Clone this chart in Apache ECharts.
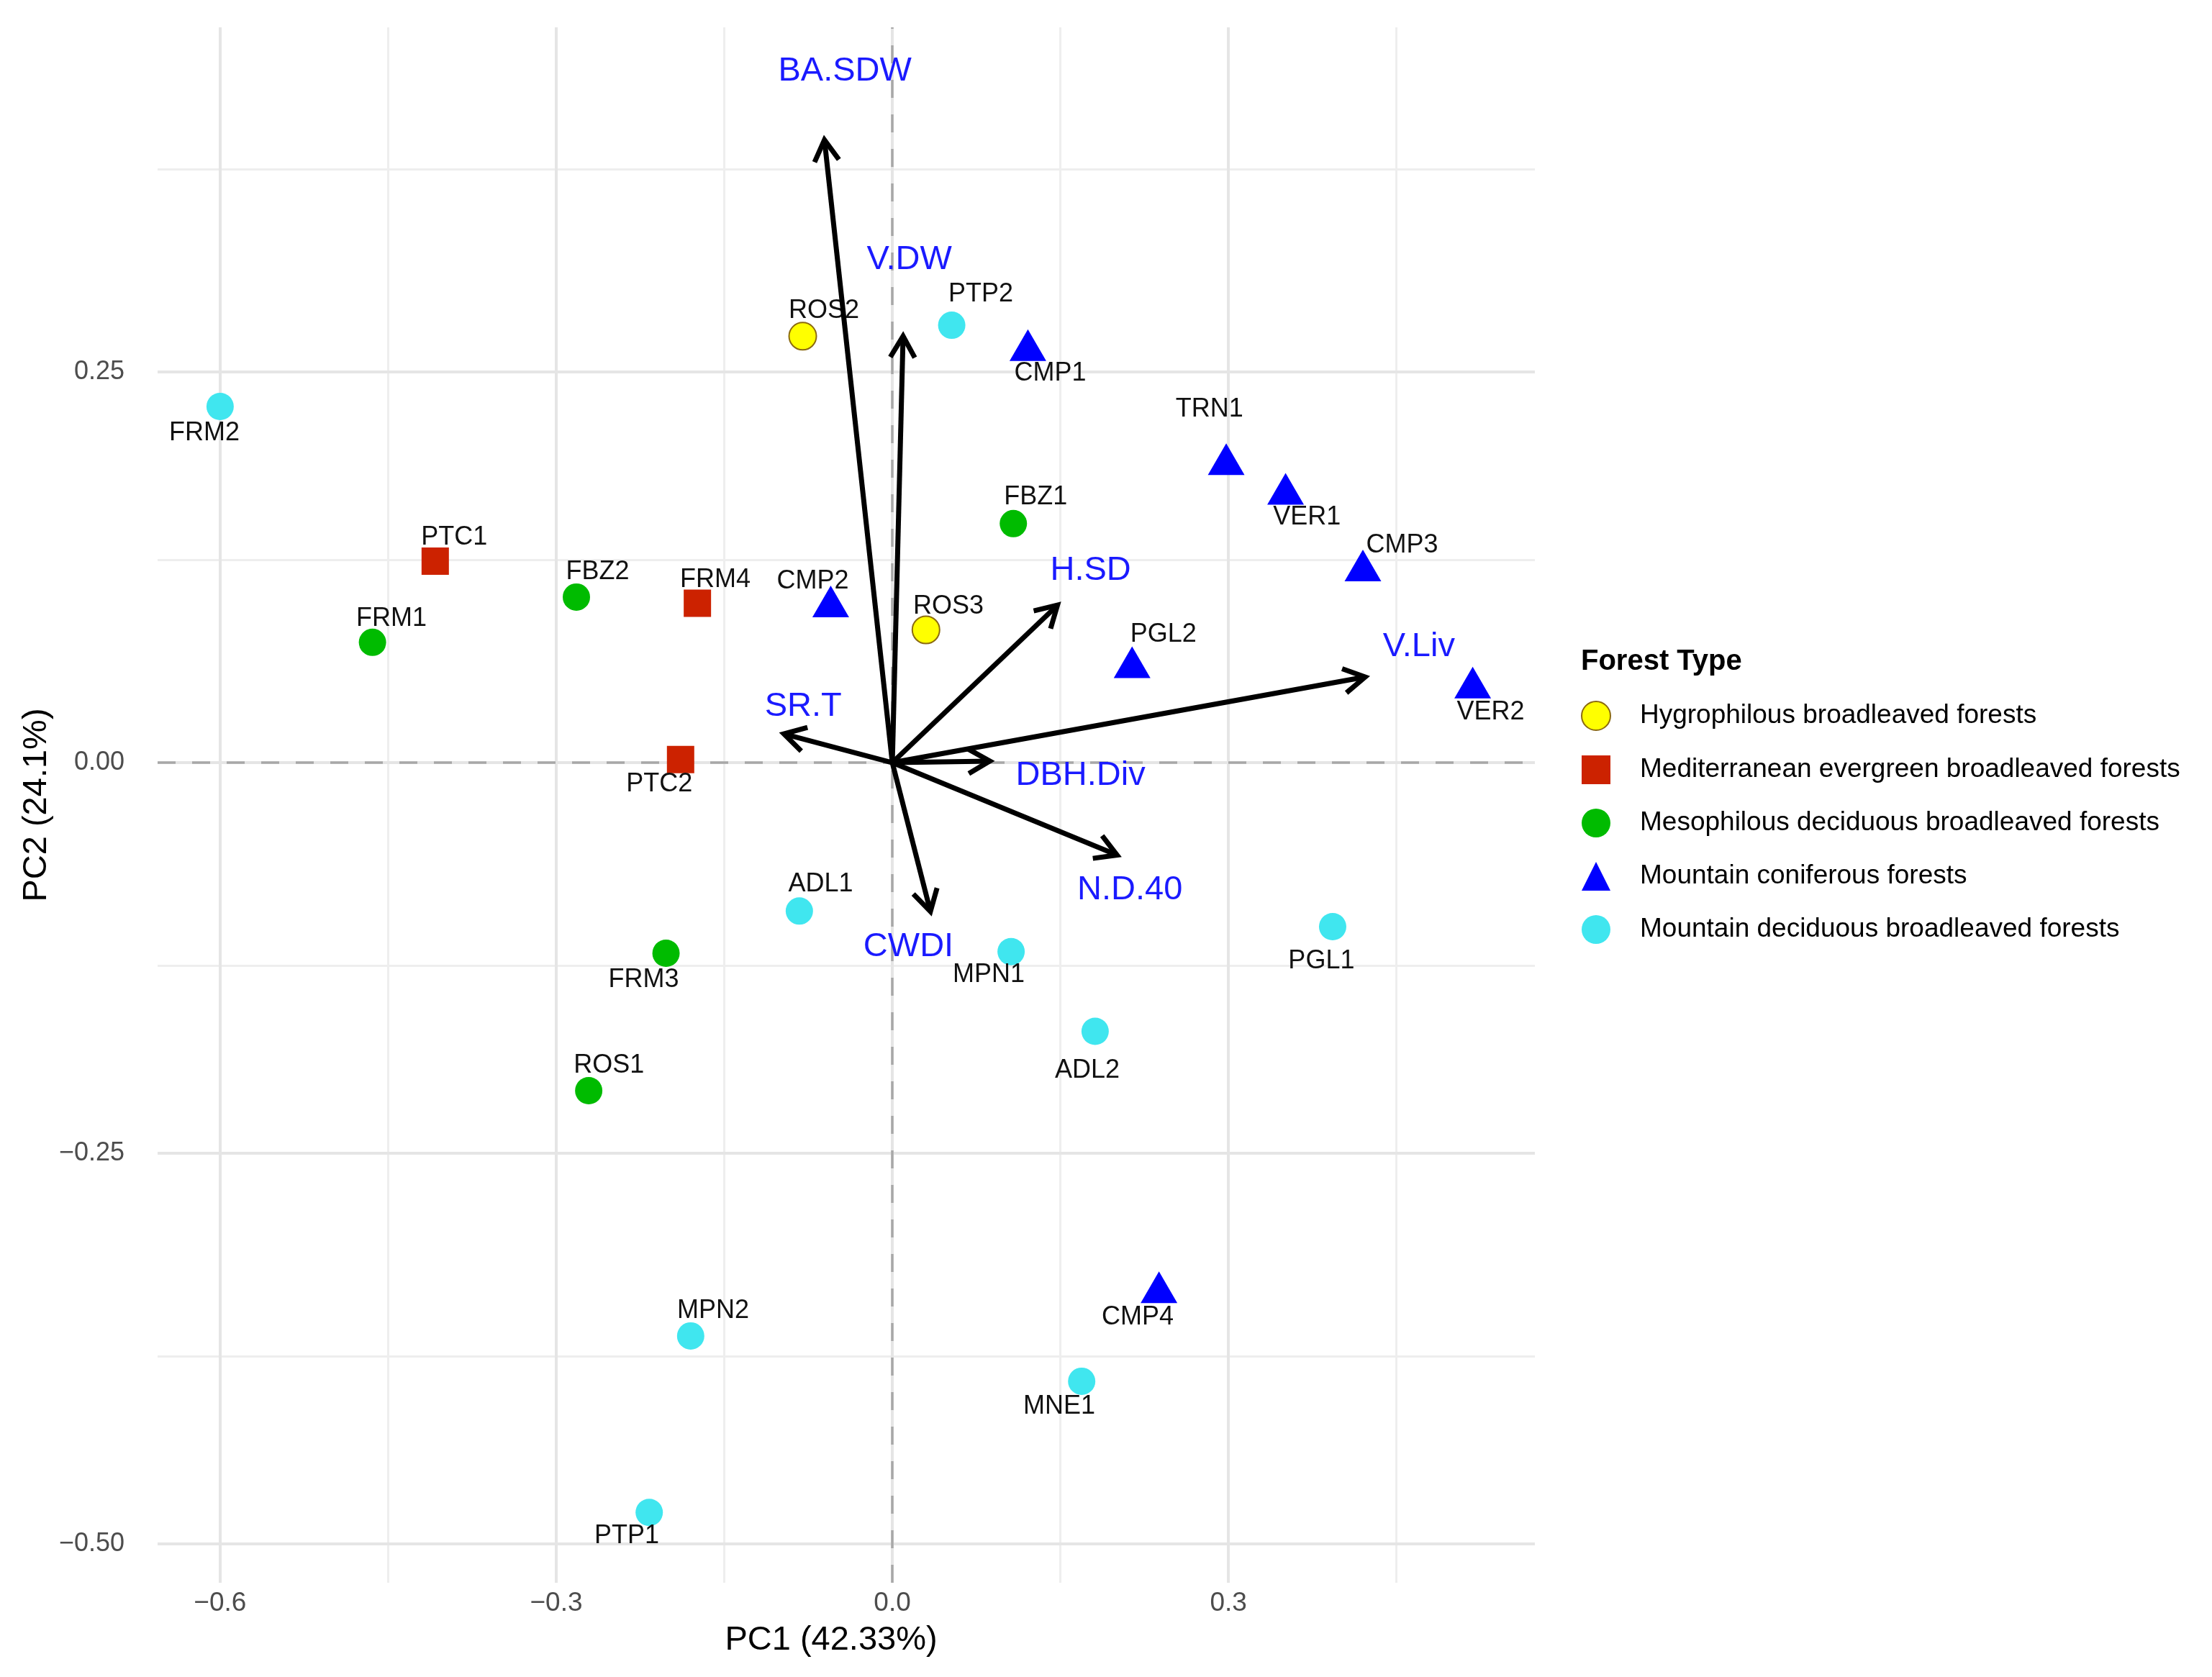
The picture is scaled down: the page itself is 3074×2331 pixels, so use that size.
<!DOCTYPE html>
<html><head><meta charset="utf-8">
<script src="https://cdn.jsdelivr.net/npm/echarts@6/dist/echarts.min.js"></script>
<style>html,body{margin:0;padding:0;background:#fff}#c{width:3074px;height:2331px}</style>
</head><body><div id="c"></div>
<script>
// ---------- data ----------
const groupNames = [
  'Hygrophilous broadleaved forests',
  'Mediterranean evergreen broadleaved forests',
  'Mesophilous deciduous broadleaved forests',
  'Mountain coniferous forests',
  'Mountain deciduous broadleaved forests'
];
const siteNames = ['ROS2','ROS3','PTC1','FRM4','PTC2','FRM1','FBZ2','FBZ1','FRM3','ROS1','CMP1','TRN1','VER1','CMP3','CMP2','PGL2','VER2','CMP4','FRM2','PTP2','ADL1','MPN1','PGL1','ADL2','MPN2','MNE1','PTP1'];
const siteGroup = [0,0,1,1,1,2,2,2,2,2,3,3,3,3,3,3,3,3,4,4,4,4,4,4,4,4,4];
const pc1 = [-0.080,0.030,-0.408,-0.174,-0.189,-0.464,-0.282,0.108,-0.202,-0.271,0.121,0.298,0.351,0.420,-0.055,0.214,0.518,0.238,-0.600,0.053,-0.083,0.106,0.393,0.181,-0.180,0.169,-0.217];
const pc2 = [0.273,0.085,0.129,0.102,0.002,0.077,0.106,0.153,-0.122,-0.210,0.264,0.191,0.172,0.123,0.100,0.061,0.048,-0.339,0.228,0.280,-0.095,-0.121,-0.105,-0.172,-0.367,-0.396,-0.480];
const labelPc1 = [-0.061,0.050,-0.391,-0.158,-0.208,-0.447,-0.263,0.128,-0.222,-0.253,0.141,0.283,0.370,0.455,-0.071,0.242,0.534,0.219,-0.614,0.079,-0.064,0.086,0.383,0.174,-0.160,0.149,-0.237];
const labelPc2 = [0.289,0.100,0.144,0.117,-0.014,0.092,0.122,0.170,-0.139,-0.194,0.249,0.226,0.157,0.139,0.116,0.082,0.032,-0.355,0.211,0.300,-0.078,-0.136,-0.127,-0.197,-0.351,-0.412,-0.495];

const varNames = ['BA.SDW','V.DW','H.SD','V.Liv','DBH.Div','N.D.40','CWDI','SR.T'];
const varPc1 = [-0.0606,0.0096,0.1474,0.422,0.087,0.2006,0.034,-0.0968];
const varPc2 = [0.3987,0.273,0.1008,0.0548,0.001,-0.0592,-0.0953,0.0184];
const varLabelPc1 = [-0.0423,0.0151,0.177,0.470,0.168,0.212,0.0144,-0.0795];
const varLabelPc2 = [0.4426,0.322,0.123,0.074,-0.0083,-0.0815,-0.118,0.036];

const xTicks = [-0.6,-0.3,0,0.3];
const xMinorTicks = [-0.45,-0.15,0.15,0.45];
const yTicks = [-0.5,-0.25,0,0.25];
const yMinorTicks = [-0.375,-0.125,0.125,0.375];
const xTitle = 'PC1 (42.33%)';
const yTitle = 'PC2 (24.1%)';
const legendTitle = 'Forest Type';

// ---------- styles ----------
const FONT = '"Liberation Sans", Arial, sans-serif';
const groupStyles = [
  {symbol:'circle', size:38, offset:[0,0], itemStyle:{color:'#FFFF00', borderColor:'#8B6A10', borderWidth:2, opacity:1}},
  {symbol:'rect', size:38, offset:[0,0], itemStyle:{color:'#CC2200', opacity:1}},
  {symbol:'circle', size:38, offset:[0,0], itemStyle:{color:'#00BB00', opacity:1}},
  {symbol:'triangle', size:[51,44], offset:[0,-7], itemStyle:{color:'#0000FF', opacity:1}},
  {symbol:'circle', size:38, offset:[0,0], itemStyle:{color:'#40E6EF', opacity:1}}
];
const fmtX = v => (v < 0 ? '\u2212' : '') + Math.abs(v).toFixed(1);
const fmtY = v => (v < 0 ? '\u2212' : '') + Math.abs(v).toFixed(2);

const chart = echarts.init(document.getElementById('c'), null, {renderer:'canvas'});

const gridLines = [];
xMinorTicks.forEach(v => gridLines.push({xAxis:v, lineStyle:{color:'#EEEEEE', width:3, type:'solid'}}));
yMinorTicks.forEach(v => gridLines.push({yAxis:v, lineStyle:{color:'#EEEEEE', width:3, type:'solid'}}));
xTicks.forEach(v => gridLines.push({xAxis:v, lineStyle:{color:'#E5E5E5', width:4, type:'solid'}}));
yTicks.forEach(v => gridLines.push({yAxis:v, lineStyle:{color:'#E5E5E5', width:4, type:'solid'}}));
gridLines.push({xAxis:0, lineStyle:{color:'#A8A8A8', width:3.5, type:[25,23]}});
gridLines.push({yAxis:0, lineStyle:{color:'#A8A8A8', width:3.5, type:[25,23]}});

const series = [];
series.push({
  type:'scatter', name:'_grid', data:[[0,0]], symbolSize:0, z:0, silent:true,
  markLine:{z:0, silent:true, symbol:['none','none'], label:{show:false}, animation:false, data:gridLines}
});
groupNames.forEach((g, gi) => {
  const st = groupStyles[gi];
  const data = [];
  siteNames.forEach((n, i) => { if (siteGroup[i] === gi) data.push([pc1[i], pc2[i], n]); });
  series.push({
    type:'scatter', name:g, data, symbol:st.symbol, symbolSize:st.size, symbolOffset:st.offset,
    itemStyle:st.itemStyle, z:10, emphasis:{disabled:true}
  });
});
series.push({
  type:'custom', name:'_siteLabels', z:11, silent:true,
  data: siteNames.map((n,i) => [labelPc1[i], labelPc2[i]]),
  encode:{x:0, y:1},
  renderItem:(params, api) => {
    const p = api.coord([api.value(0), api.value(1)]);
    return {type:'text', x:p[0], y:p[1], style:{text:siteNames[params.dataIndex], align:'center', verticalAlign:'middle', fill:'#111', fontSize:36, fontFamily:FONT}};
  }
});
series.push({
  type:'custom', name:'_arrows', z:12, silent:true,
  data: varNames.map((n,i) => [varPc1[i], varPc2[i]]),
  encode:{x:0, y:1},
  renderItem:(params, api) => {
    const o = api.coord([0,0]);
    const t = api.coord([api.value(0), api.value(1)]);
    const ang = Math.atan2(t[1]-o[1], t[0]-o[0]);
    const L = 34, a = Math.PI/6;
    const h1 = [t[0]-L*Math.cos(ang-a), t[1]-L*Math.sin(ang-a)];
    const h2 = [t[0]-L*Math.cos(ang+a), t[1]-L*Math.sin(ang+a)];
    return {type:'group', children:[
      {type:'line', shape:{x1:o[0], y1:o[1], x2:t[0], y2:t[1]}, style:{stroke:'#000', lineWidth:7}},
      {type:'polyline', shape:{points:[h1, t, h2]}, style:{stroke:'#000', lineWidth:7, fill:null, lineJoin:'miter'}}
    ]};
  }
});
series.push({
  type:'custom', name:'_varLabels', z:13, silent:true,
  data: varNames.map((n,i) => [varLabelPc1[i], varLabelPc2[i]]),
  encode:{x:0, y:1},
  renderItem:(params, api) => {
    const p = api.coord([api.value(0), api.value(1)]);
    return {type:'text', x:p[0], y:p[1], style:{text:varNames[params.dataIndex], align:'center', verticalAlign:'middle', fill:'#1a1aff', fontSize:47, fontFamily:FONT}};
  }
});

chart.setOption({
  animation:false,
  backgroundColor:'#fff',
  textStyle:{fontFamily:FONT},
  grid:{left:219, right:941, top:38, bottom:131, containLabel:false},
  xAxis:{
    type:'value', min:-0.6558, max:0.5735,
    axisLine:{show:false}, axisTick:{show:false}, splitLine:{show:false},
    axisLabel:{customValues:xTicks, formatter:fmtX, color:'#4D4D4D', fontSize:37, margin:10, fontFamily:FONT}
  },
  yAxis:{
    type:'value', min:-0.525, max:0.4707,
    axisLine:{show:false}, axisTick:{show:false}, splitLine:{show:false},
    axisLabel:{customValues:yTicks, formatter:fmtY, color:'#4D4D4D', fontSize:36, margin:46, fontFamily:FONT}
  },
  title:{text:legendTitle, left:2197, top:900, padding:0, textStyle:{fontSize:40, fontWeight:'bold', color:'#000', fontFamily:FONT}},
  legend:{
    data:groupNames, orient:'vertical', left:2197, top:974, padding:0,
    itemWidth:40, itemHeight:40, itemGap:34,
    textStyle:{fontSize:37, color:'#000', fontFamily:FONT, padding:[0,0,0,36]},
    selectedMode:false
  },
  graphic:[
    {type:'text', x:1155, y:2280, style:{text:xTitle, align:'center', verticalAlign:'middle', fontSize:47, fill:'#000', fontFamily:FONT}},
    {type:'text', x:51, y:1119, rotation:Math.PI/2, style:{text:yTitle, align:'center', verticalAlign:'middle', fontSize:47, fill:'#000', fontFamily:FONT}}
  ],
  series
});
</script></body></html>
